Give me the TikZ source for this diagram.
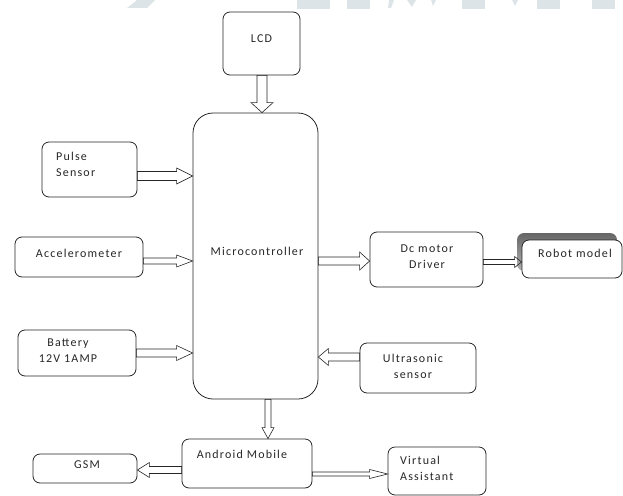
\documentclass[tikz,border=0pt]{standalone}
\usepackage{fontspec}
\setmainfont{Carlito}[LetterSpace=10]
\usetikzlibrary{calc}

\definecolor{wmgrey}{RGB}{221,228,232}

\tikzset{
	box/.style={draw=black!85, line width=0.8pt, rounded corners=7pt, inner sep=0pt},
	lbl/.style={font=\fontsize{12}{16}\selectfont, text=black!85, align=#1, inner sep=0pt},
	lbl/.default=center,
	% hollow block arrow: shaft half width, head half width, head length
	barrow/.style n args={3}{draw=black!85, line width=0.6pt, to path={
		($(\tikztostart)!#1!90:(\tikztotarget)$)
		-- ($($(\tikztotarget)!#3!(\tikztostart)$)!#1!90:(\tikztotarget)$)
		-- ($($(\tikztotarget)!#3!(\tikztostart)$)!#2!90:(\tikztotarget)$)
		-- (\tikztotarget)
		-- ($($(\tikztotarget)!#3!(\tikztostart)$)!#2!-90:(\tikztotarget)$)
		-- ($($(\tikztotarget)!#3!(\tikztostart)$)!#1!-90:(\tikztotarget)$)
		-- ($(\tikztostart)!#1!-90:(\tikztotarget)$) -- cycle}}
}

\begin{document}
\begin{tikzpicture}[x=1pt, y=-1pt]
		\useasboundingbox (0,0) rectangle (623,495);

		% Faint marks along the top edge
		\fill[wmgrey] (137,0) -- (155,0) -- (147,8) -- (127,8) -- cycle;
		\fill[wmgrey] (297,0) rectangle (330,9);
		\fill[wmgrey] (347,0) rectangle (370,9);
		\fill[wmgrey] (389,0) -- (394,0) -- (391,8) -- (388,8) -- cycle;
		\fill[wmgrey] (407,0) -- (416,0) -- (412,7) -- cycle;
		\fill[wmgrey] (431,0) -- (436,0) -- (433,6) -- cycle;
		\fill[wmgrey] (462,0) rectangle (485,9);
		\fill[wmgrey] (512,0) -- (518,0) -- (515,6) -- cycle;
		\fill[wmgrey] (537,0) rectangle (560,9);
		\fill[wmgrey] (592,0) rectangle (615,9);

		% Boxes
		\node[box, minimum width=77, minimum height=63] (lcd) at (261.5,43.5) {};
		\node[box, rounded corners=20pt, minimum width=125, minimum height=286] (micro) at (255.5,256) {};
		\node[box, minimum width=95, minimum height=55] (pulse) at (89.5,169.5) {};
		\node[box, minimum width=128, minimum height=40] (acc) at (79,257) {};
		\node[box, minimum width=118, minimum height=46] (battery) at (77,353) {};
		\node[box, minimum width=113, minimum height=55] (driver) at (426.5,259.5) {};
		\shade[top color=black!60, bottom color=black!30, rounded corners=7pt] (517,233) rectangle (617,271);
		\node[box, fill=white, minimum width=100, minimum height=38] (robot) at (572,259) {};
		\node[box, minimum width=116, minimum height=50] (ultra) at (418,368) {};
		\node[box, minimum width=130, minimum height=49] (android) at (247,463.5) {};
		\node[box, minimum width=104, minimum height=29] (gsm) at (85,468.5) {};
		\node[box, minimum width=98, minimum height=48] (assistant) at (437,471) {};

		% Texts
		\node[lbl] (lcd-t) at (261.5,38.5) {LCD};
		\node[lbl] (micro-t) at (257,251) {Microcontroller};
		\node[lbl=left, anchor=west] (pulse-t) at (56,164.5) {Pulse\\Sensor};
		\node[lbl] (acc-t) at (79,253) {Accelerometer};
		\node[lbl] (battery-t) at (68,351) {Battery\\12V 1AMP};
		\node[lbl] (driver-t) at (427,256.5) {Dc motor\\Driver};
		\node[lbl] (robot-t) at (575,253) {Robot model};
		\node[lbl] (ultra-t) at (413,366) {Ultrasonic\\sensor};
		\node[lbl] (android-t) at (242,454) {Android Mobile};
		\node[lbl] (gsm-t) at (87,465) {GSM};
		\node[lbl=left, anchor=west] (assistant-t) at (400,468) {Virtual\\Assistant};

		% Arrows
		\draw[barrow={5pt}{11pt}{10pt}] (lcd.south -| 262,0) to (micro.north -| 262,0);
		\draw[barrow={4.5pt}{8pt}{16pt}] (pulse.east |- 0,176) to (micro.west |- 0,176);
		\draw[barrow={3pt}{6pt}{16pt}] (acc.east |- 0,261) to (micro.west |- 0,261);
		\draw[barrow={4pt}{7.5pt}{16pt}] (battery.east |- 0,353) to (micro.west |- 0,353);
		\draw[barrow={4pt}{9pt}{10pt}] (micro.east |- 0,261) to (driver.west |- 0,261);
		\draw[barrow={2.5pt}{5.5pt}{7pt}] (driver.east |- 0,262) to (robot.west |- 0,262);
		\draw[barrow={4pt}{8.5pt}{10pt}] (ultra.west |- 0,357) to (micro.east |- 0,357);
		\draw[barrow={3pt}{6pt}{11pt}] (micro.south -| 268,0) to (android.north -| 268,0);
		\draw[barrow={3.5pt}{7.5pt}{12pt}] (android.west |- 0,470) to (gsm.east |- 0,470);
		\draw[barrow={2pt}{4.5pt}{18pt}] (android.east |- 0,474) to (assistant.west |- 0,474);

\end{tikzpicture}
\end{document}
